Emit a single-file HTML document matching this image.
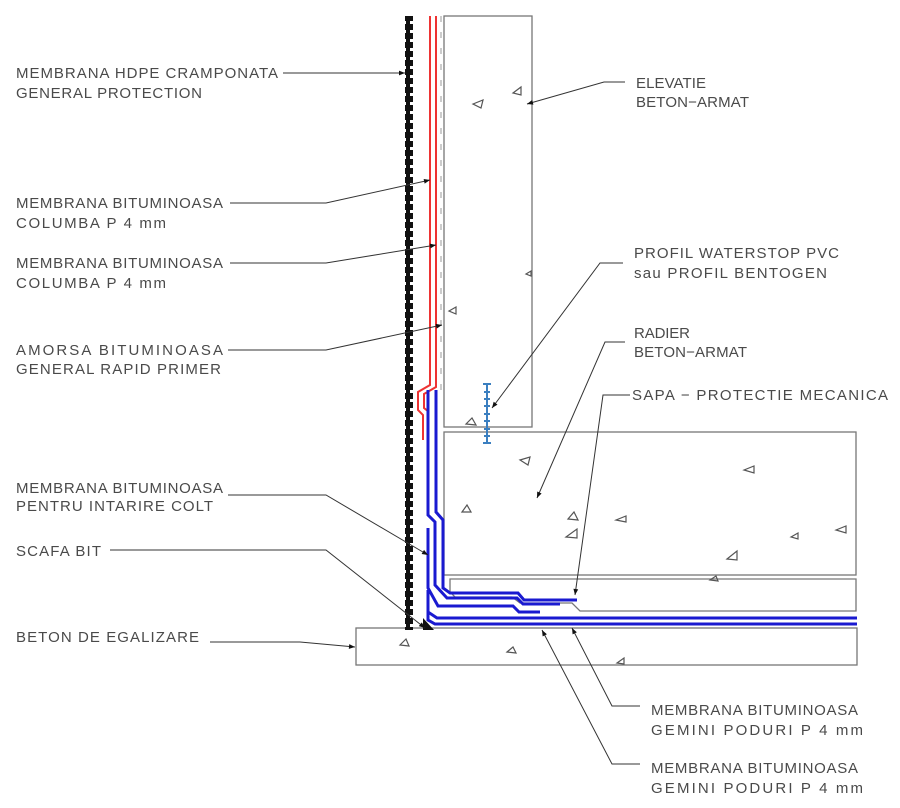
<!DOCTYPE html>
<html><head><meta charset="utf-8"><style>
html,body{margin:0;padding:0;background:#fff;width:900px;height:808px;overflow:hidden}
svg text{font-family:"Liberation Sans",sans-serif;font-size:15px;fill:#4a4a4a}
</style></head><body>
<svg width="900" height="808" viewBox="0 0 900 808" xmlns="http://www.w3.org/2000/svg">
<defs>
<marker id="ar" viewBox="0 0 10 10" refX="10" refY="5" markerWidth="14" markerHeight="6" orient="auto" markerUnits="userSpaceOnUse"><path d="M0,1 L10,5 L0,9 z" fill="#111"/></marker>
<pattern id="hd" width="8" height="9" patternUnits="userSpaceOnUse"><rect width="8" height="9" fill="#111"/><rect x="2" y="3" width="4" height="3" fill="#fff"/></pattern>
</defs>
<g fill="none" stroke="#777" stroke-width="1.3">
<rect x="444" y="16" width="88" height="411"/>
<rect x="444" y="432" width="412" height="143"/>
<path d="M450 579 H856 V611 H580 L572 603 H520 L512 597 H455 L450 592 Z"/>
<rect x="356" y="628" width="501" height="37"/>
</g>
<g fill="none" stroke="#555" stroke-width="1.2">
<path d="M513 93 l8 -6 v8z"/><path d="M473 104 l10 -4 l-2 8z"/><path d="M449 311 l7 -4 v7z"/><path d="M526 274 l5 -3 v5z"/>
<path d="M466 424 l6 -6 l4 7z"/><path d="M744 470 l10 -4 v7z"/><path d="M520 460 l10 -3 -2 8z"/><path d="M462 512 l5 -7 4 7z"/><path d="M568 519 l6 -7 4 8z"/><path d="M566 537 l11 -8 v9z"/><path d="M616 520 l10 -4 v6z"/><path d="M727 559 l10 -8 v9z"/><path d="M791 537 l7 -4 v6z"/><path d="M836 530 l10 -4 v7z"/><path d="M710 580 l6 -4 2 5z"/><path d="M400 645 l6 -6 3 7z"/><path d="M507 652 l6 -5 3 6z"/><path d="M617 663 l7 -5 v6z"/>
</g>
<rect x="405" y="16" width="8" height="614" fill="url(#hd)"/>
<g fill="none" stroke="#e33" stroke-width="2">
<path d="M430 16 V385 L418 392 V410 L423 415 V440"/>
<path d="M436 16 V387 L424 394 V408 L429 412"/>
</g>
<line x1="441" y1="16" x2="441" y2="390" stroke="#bbb" stroke-width="1.5" stroke-dasharray="6,10"/>
<g fill="none" stroke="#1a1ad0" stroke-width="3">
<path d="M428 390 V515 L435 522 V585 L447 598 H517 L523 604 H560"/>
<path d="M436 390 V512 L443 520 V588 L450 593 H518 L524 600 H577"/>
<path d="M428 528 V588 L438 606 H513 L519 612 H540"/>
<path d="M428 590 V612 L437 618 H857"/>
<path d="M428 596 V620 L435 624 H857"/>
</g>
<path d="M423 630 L423 618 L434 630 Z" fill="#111"/>
<g stroke="#3b7fc0" stroke-width="2" fill="none">
<line x1="487" y1="383" x2="487" y2="444"/>
<path d="M483 384 h8 M484 392 h6 M484 399 h6 M484 406 h6 M484 414 h6 M484 421 h6 M484 429 h6 M484 436 h6 M483 443 h8"/>
</g>
<g fill="none" stroke="#333" stroke-width="1" marker-end="url(#ar)">
<path d="M283 73 H405"/>
<path d="M625 82 L604 82 L527 104"/>
<path d="M230 203 H326 L430 180"/>
<path d="M230 263 H326 L436 245"/>
<path d="M228 350 H326 L442 325"/>
<path d="M623 263 H600 L492 408"/>
<path d="M625 342 H605 L537 498"/>
<path d="M630 395 H603 L575 595"/>
<path d="M228 495 H326 L428 555"/>
<path d="M110 550 H326 L425 628"/>
<path d="M210 642 H300 L355 647"/>
<path d="M640 706 H612 L572 628"/>
<path d="M640 764 H612 L542 630"/>
</g>
<text x="16" y="78" textLength="262">MEMBRANA HDPE CRAMPONATA</text>
<text x="16" y="98" textLength="186">GENERAL PROTECTION</text>
<text x="16" y="208" textLength="207">MEMBRANA BITUMINOASA</text>
<text x="16" y="228" textLength="150">COLUMBA P 4 mm</text>
<text x="16" y="268" textLength="207">MEMBRANA BITUMINOASA</text>
<text x="16" y="288" textLength="150">COLUMBA P 4 mm</text>
<text x="16" y="355" textLength="207">AMORSA BITUMINOASA</text>
<text x="16" y="374" textLength="205">GENERAL RAPID PRIMER</text>
<text x="16" y="493" textLength="207">MEMBRANA BITUMINOASA</text>
<text x="16" y="511" textLength="197">PENTRU INTARIRE COLT</text>
<text x="16" y="556" textLength="85">SCAFA BIT</text>
<text x="16" y="642" textLength="183">BETON DE EGALIZARE</text>
<text x="636" y="88" textLength="70">ELEVATIE</text>
<text x="636" y="107" textLength="113">BETON−ARMAT</text>
<text x="634" y="258" textLength="205">PROFIL WATERSTOP PVC</text>
<text x="634" y="278" textLength="193">sau PROFIL BENTOGEN</text>
<text x="634" y="338" textLength="56">RADIER</text>
<text x="634" y="357" textLength="113">BETON−ARMAT</text>
<text x="632" y="400" textLength="256">SAPA − PROTECTIE MECANICA</text>
<text x="651" y="715" textLength="207">MEMBRANA BITUMINOASA</text>
<text x="651" y="735" textLength="212">GEMINI PODURI P 4 mm</text>
<text x="651" y="773" textLength="207">MEMBRANA BITUMINOASA</text>
<text x="651" y="793" textLength="212">GEMINI PODURI P 4 mm</text>
</svg>
</body></html>
